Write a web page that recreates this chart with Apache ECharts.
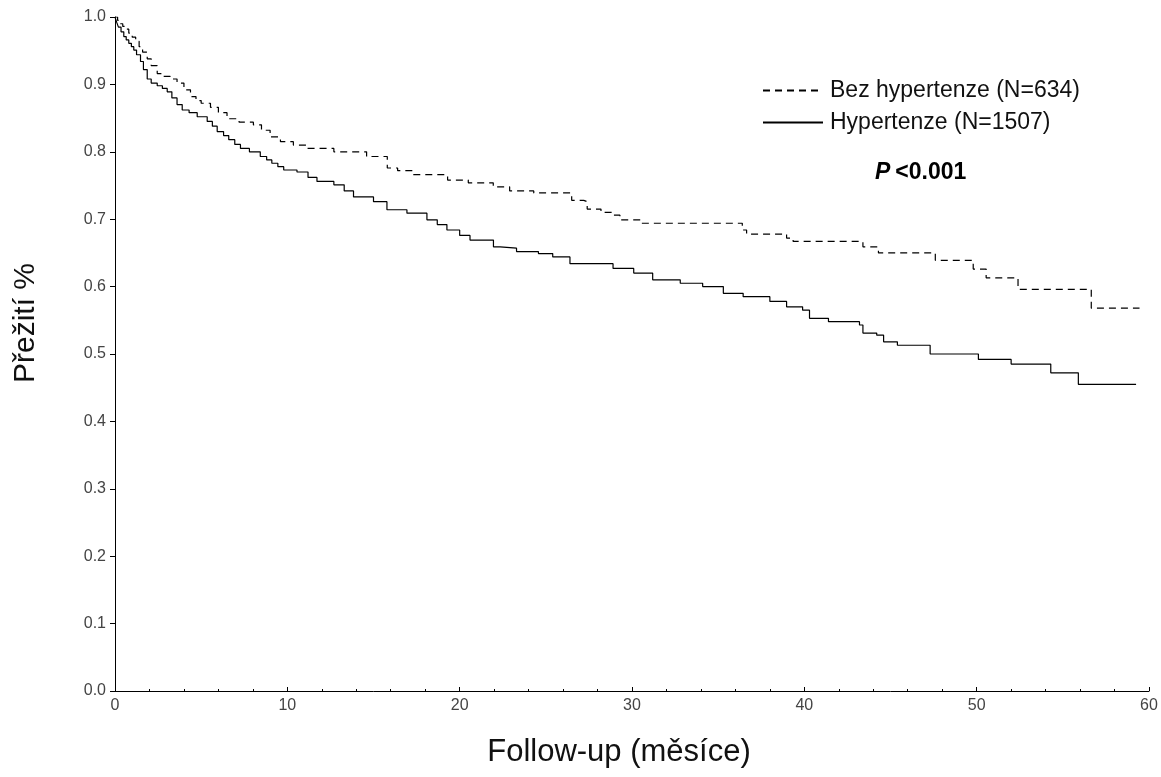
<!DOCTYPE html>
<html>
<head>
    <meta charset="utf-8">
    <title>Přežití</title>
    <script src="https://cdn.jsdelivr.net/npm/echarts@6/dist/echarts.min.js"></script>
    <style>
        html, body { margin: 0; padding: 0; background: #fff; }
        #chart { width: 1161px; height: 777px; }
    </style>
</head>
<body>
<div id="chart"></div>
<script>
// Bez hypertenze (N=634) - cas (mesice) a preziti
var bezT = [0, 0.15, 0.3, 0.45, 0.6, 0.8, 1.0, 1.2, 1.4, 1.6, 1.87, 2.1, 2.45, 2.8, 3.2, 3.6, 4.0, 4.38, 4.7, 5.0,
    5.54, 6.0, 6.5, 7.2, 8.03, 8.5, 9.0, 9.6, 10.35, 11.1, 12.7,
    14.6, 15.8, 16.4, 17.3, 19.3, 20.5, 21.95, 22.9, 24.3, 26.5, 27.2, 27.4, 28.2, 28.9, 29.3, 30.5, 36.4, 36.65,
    38.97, 39.35, 43.4, 44.3, 47.6, 49.8, 50.55, 52.4, 56.65, 59.45];
var bezS = [1.0, 0.995, 0.99, 0.986, 0.982, 0.976, 0.970, 0.964, 0.956, 0.948, 0.938, 0.928, 0.916, 0.912, 0.908,
    0.902, 0.892, 0.882, 0.876, 0.872, 0.866, 0.858, 0.849, 0.844, 0.840, 0.832, 0.822, 0.815, 0.810, 0.805, 0.800,
    0.793, 0.776, 0.772, 0.766, 0.758, 0.754, 0.748, 0.742, 0.739, 0.728, 0.726, 0.715,
    0.710, 0.706, 0.699, 0.694, 0.684, 0.678, 0.672, 0.667, 0.659, 0.650, 0.639, 0.626, 0.613, 0.596, 0.568, 0.568];

// Hypertenze (N=1507)
var hypT = [0, 0.1, 0.2, 0.35, 0.51, 0.65, 0.8, 0.95, 1.09, 1.25, 1.48, 1.65, 1.87, 2.1, 2.45, 2.75, 3.03, 3.3, 3.6,
    3.9, 4.3, 4.77, 5.35, 5.65, 5.93, 6.3, 6.6, 6.95, 7.28, 7.8, 8.43, 8.8, 9.1, 9.45, 9.79,
    10.56, 11.2, 11.72, 12.7, 13.3, 13.84, 15.0, 15.78, 16.94, 18.1, 18.7, 19.26, 20.0, 20.6, 21.96, 22.35, 23.3,
    24.57, 25.4, 26.4, 28.9, 30.1, 31.2, 32.8, 34.1, 35.3, 36.45, 38.0, 38.97, 39.9, 40.3, 41.4, 43.2, 43.4, 44.2,
    44.6, 45.4, 47.3, 50.1, 52.0, 54.3, 55.9, 59.25];
var hypS = [1.0, 0.992, 0.985, 0.978, 0.971, 0.966, 0.961, 0.956, 0.951, 0.944, 0.934, 0.922, 0.908, 0.902, 0.898,
    0.894, 0.889, 0.880, 0.870, 0.862, 0.858, 0.852, 0.845, 0.838, 0.830, 0.824, 0.818, 0.811, 0.805, 0.800, 0.793,
    0.788, 0.783, 0.778, 0.773,
    0.770, 0.762, 0.756, 0.751, 0.742, 0.733, 0.726, 0.714, 0.709, 0.699, 0.692, 0.684,
    0.676, 0.669, 0.659, 0.657, 0.652, 0.649, 0.644, 0.634, 0.627, 0.620, 0.610, 0.605, 0.600, 0.590, 0.585, 0.578,
    0.570, 0.565, 0.553, 0.548, 0.543, 0.531, 0.528, 0.518, 0.513, 0.500, 0.492, 0.485, 0.472, 0.455, 0.455];

var bezName = 'Bez hypertenze (N=634)';
var hypName = 'Hypertenze (N=1507)';
var xTitle = 'Follow-up (měsíce)';
var yTitle = 'Přežití %';

function pairs(t, s) {
    var out = [];
    for (var i = 0; i < t.length; i++) out.push([t[i], s[i]]);
    return out;
}

var font = '"Liberation Sans", Arial, sans-serif';
var chart = echarts.init(document.getElementById('chart'));
chart.setOption({
    animation: false,
    title: {
        left: 870, top: 156,
        text: '{i|P} {n|<0.001}',
        textStyle: {
            rich: {
                i: { fontFamily: font, fontSize: 23, fontWeight: 'bold', fontStyle: 'italic', color: '#000' },
                n: { fontFamily: font, fontSize: 23, fontWeight: 'bold', color: '#000' }
            }
        }
    },
    legend: {
        orient: 'vertical',
        left: 757, top: 74,
        itemWidth: 60, itemHeight: 24, itemGap: 9,
        itemStyle: { opacity: 0 },
        textStyle: { fontFamily: font, fontSize: 23, color: '#111', padding: [0, 0, 0, 2] },
        data: [bezName, hypName]
    },
    // nazvy os
    graphic: [
        { type: 'text', x: 619, y: 752,
          style: { text: xTitle, font: '31px ' + font, fill: '#111', align: 'center', verticalAlign: 'middle' } },
        { type: 'text', x: 26, y: 323, rotation: Math.PI / 2,
          style: { text: yTitle, font: '30px ' + font, fill: '#111', align: 'center', verticalAlign: 'middle' } }
    ],
    grid: { left: 115, right: 12, top: 17, bottom: 86 },
    xAxis: {
        type: 'value', min: 0, max: 60, interval: 10,
        axisLine: { lineStyle: { color: '#000', width: 1 } },
        axisTick: { inside: true, length: 4, lineStyle: { color: '#000' } },
        minorTick: { show: true, splitNumber: 5, length: 2, lineStyle: { color: '#000' } },
        axisLabel: { fontFamily: font, fontSize: 16, color: '#444', margin: 7 },
        splitLine: { show: false }
    },
    yAxis: {
        type: 'value', min: 0, max: 1, interval: 0.1,
        axisLine: { show: true, lineStyle: { color: '#000', width: 1 } },
        axisTick: { show: true, length: 5, lineStyle: { color: '#000' } },
        axisLabel: { fontFamily: font, fontSize: 16, color: '#444', margin: 9,
            formatter: function (v) { return v.toFixed(1); } },
        splitLine: { show: false }
    },
    series: [
        {
            name: bezName, type: 'line', step: 'end', symbol: 'none',
            lineStyle: { color: '#000', width: 1.2, type: [7, 5] },
            itemStyle: { color: '#000' },
            data: pairs(bezT, bezS)
        },
        {
            name: hypName, type: 'line', step: 'end', symbol: 'none',
            lineStyle: { color: '#000', width: 1.2 },
            itemStyle: { color: '#000' },
            data: pairs(hypT, hypS)
        }
    ]
});
</script>
</body>
</html>
